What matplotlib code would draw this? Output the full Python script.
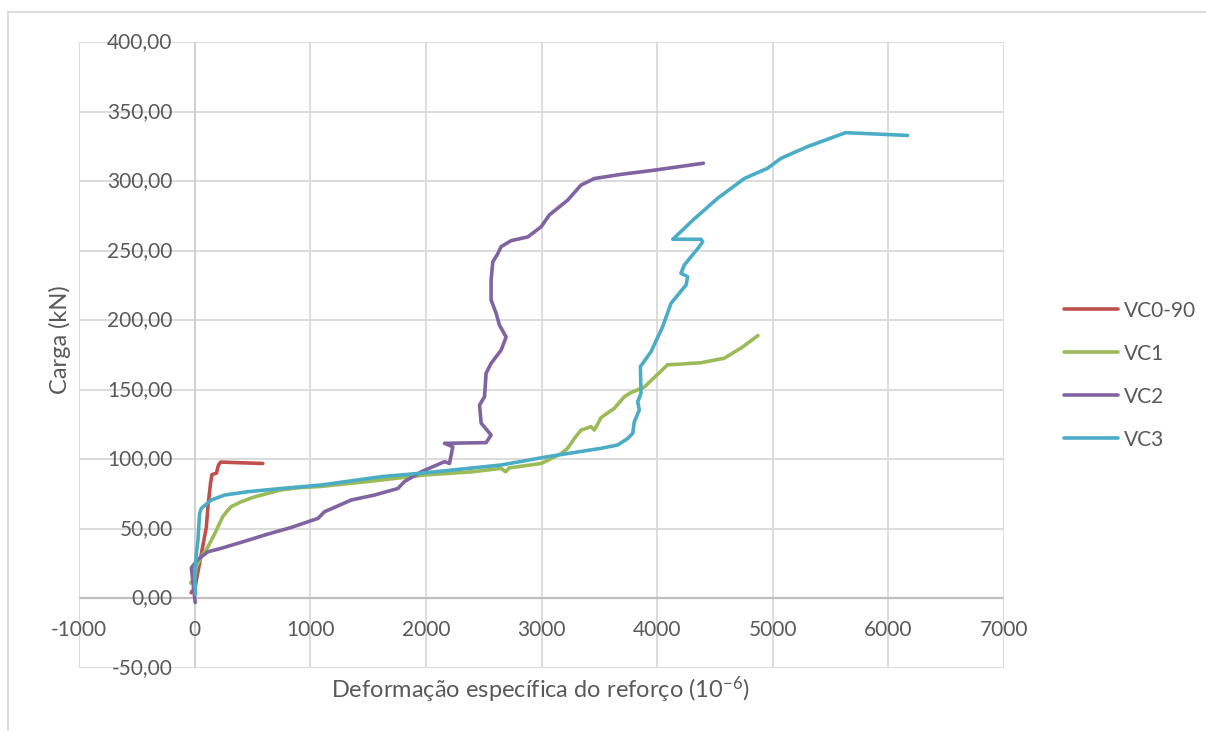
import matplotlib
matplotlib.use("Agg")
import matplotlib.pyplot as plt
from matplotlib.lines import Line2D

plt.rcParams['font.family'] = ['Lato', 'DejaVu Sans']
plt.rcParams['mathtext.fontset'] = 'custom'
plt.rcParams['mathtext.rm'] = 'Lato'
plt.rcParams['mathtext.it'] = 'Lato'

# Load (kN) vs. reinforcement strain (10^-6) for each beam
vc0_90_x = [-30, 5, 15, 58, 101, 115, 138, 150, 188, 207, 225, 400, 590]
vc0_90_y = [4, 8, 13, 32, 51, 66, 83, 89, 90, 96, 98, 97.5, 97]

vc1_x = [-34, 0, 15, 58, 115, 159, 188, 216, 245, 289, 317, 404, 519, 634, 749,
         893, 1095, 1500, 1989, 2400, 2650, 2690, 2720, 2997, 3169, 3227, 3284,
         3342, 3429, 3457, 3515, 3630, 3716, 3774, 3889, 4091, 4206, 4380, 4580,
         4725, 4872]
vc1_y = [11, 15, 23, 30, 37, 44, 49, 54, 59, 63.5, 66, 69.5, 73, 75.5, 78,
         79.5, 80.5, 84, 88.7, 91, 93.5, 91, 93.8, 97, 104, 108, 115,
         121, 123.5, 121, 130, 136.7, 145, 148, 152, 168, 168.5, 169.5, 172.7,
         180, 189]

vc2_x = [5, -10, -28, 29, 115, 231, 375, 490, 605, 836, 1067, 1124, 1354, 1556, 1758,
         1815, 1959, 2161, 2204, 2233, 2161, 2521, 2564, 2478, 2464, 2507, 2521,
         2564, 2651, 2694, 2636, 2608, 2564, 2564, 2579, 2622, 2651, 2737, 2882,
         2997, 3068, 3227, 3342, 3457, 3688, 3976, 4400]
vc2_y = [-3, 8, 22, 28, 33.5, 36, 39.6, 42.5, 45.5, 51, 57.5, 62.3, 70.7, 74.3, 79,
         84, 91, 98.3, 97, 109, 111.5, 112, 117.5, 126, 139, 145, 162,
         169, 178.6, 188, 196.6, 205, 214.6, 229, 242, 248, 253, 257.3, 260,
         267.3, 275.8, 286.5, 297.3, 302, 305, 308, 313]

vc3_x = [8, 0, 15, 29, 43, 58, 144, 259, 461, 749, 1095, 1614, 1959, 2651, 3054,
         3515, 3659, 3746, 3789, 3803, 3846, 3832, 3861, 3855, 3947, 4048, 4120,
         4250, 4264, 4206, 4235, 4365, 4394, 4380, 4135, 4221, 4308, 4524, 4754,
         4956, 5071, 5302, 5630, 6166]
vc3_y = [3, 18, 32, 42, 61, 64.7, 70.7, 74.3, 76.7, 79, 81.5, 87.5, 90, 95.9, 101.9,
         107.9, 110.3, 115, 118.7, 127, 135.5, 141.4, 147.5, 166.6, 177.4, 195.4, 212.2,
         225.4, 231.4, 233.8, 239.8, 253, 256.5, 258.3, 258.3, 265, 272, 287.8, 302,
         309.4, 316.5, 325, 335, 333]

series_names = ['VC0-90', 'VC1', 'VC2', 'VC3']
series_colors = ['#C0504D', '#9BBB59', '#8064A2', '#4BACC6']

x_ticks = [-1000, 0, 1000, 2000, 3000, 4000, 5000, 6000, 7000]
y_ticks = [-50, 0, 50, 100, 150, 200, 250, 300, 350, 400]

W, H = 1206, 731
fig = plt.figure(figsize=(W / 100, H / 100), dpi=100)
ax = fig.add_axes([79 / W, 1 - 667.8 / H, (1004 - 79) / W, (667.8 - 42.3) / H])

text_color = '#595959'
grid_color = '#d9d9d9'

ax.set_xlim(x_ticks[0], x_ticks[-1])
ax.set_ylim(y_ticks[0], y_ticks[-1])
for s in ax.spines.values():
    s.set_visible(False)
ax.set_xticks([])
ax.set_yticks([])

for xv in x_ticks:
    ax.axvline(xv, color=grid_color, lw=1.3, zorder=1)
for yv in y_ticks:
    ax.axhline(yv, color=grid_color, lw=1.3, zorder=1)
ax.axhline(0, color='#bfbfbf', lw=1.6, zorder=1.5)
ax.axvline(0, color='#cfcfcf', lw=1.3, zorder=1.5)

xs = [vc0_90_x, vc1_x, vc2_x, vc3_x]
ys = [vc0_90_y, vc1_y, vc2_y, vc3_y]
for x, y, name, c in zip(xs, ys, series_names, series_colors):
    ax.plot(x, y, color=c, lw=2.6, label=name, zorder=3,
            solid_joinstyle='round', solid_capstyle='round')

# tick labels drawn next to the axes that cross at zero
tick_fs = 15
for yv in y_ticks:
    ax.annotate(f"{yv:.2f}".replace('.', ','), xy=(0, yv), xytext=(-22, 0),
                textcoords='offset pixels', ha='right', va='center',
                fontsize=tick_fs, color=text_color, annotation_clip=False)
for xv in x_ticks:
    ax.annotate(f"{xv}", xy=(xv, 0), xytext=(0, -32),
                textcoords='offset pixels', ha='center', va='center',
                fontsize=tick_fs, color=text_color, annotation_clip=False)

fig.text(60 / W, 1 - 340 / H, 'Carga (kN)', rotation=90, ha='center', va='center',
         fontsize=17, color=text_color)
fig.text(540 / W, 1 - 690 / H, r'Deformação específica do reforço (10$^{-6}$)',
         ha='center', va='center', fontsize=17, color=text_color)

leg = fig.legend(loc='upper left', bbox_to_anchor=(1045 / W, 1 - 282 / H),
                 frameon=False, fontsize=15, handlelength=2.6,
                 labelspacing=1.1, handletextpad=0.3)
for t in leg.get_texts():
    t.set_color(text_color)
for h in leg.get_lines():
    h.set_linewidth(2.6)

# outer chart border
fig.add_artist(Line2D([8 / W, 8 / W], [0, 1 - 12 / H], color=grid_color, lw=1.3,
                      transform=fig.transFigure))
fig.add_artist(Line2D([8 / W, 1], [1 - 12 / H, 1 - 12 / H], color=grid_color, lw=1.3,
                      transform=fig.transFigure))

fig.savefig('out.png', dpi=100, facecolor='white')
